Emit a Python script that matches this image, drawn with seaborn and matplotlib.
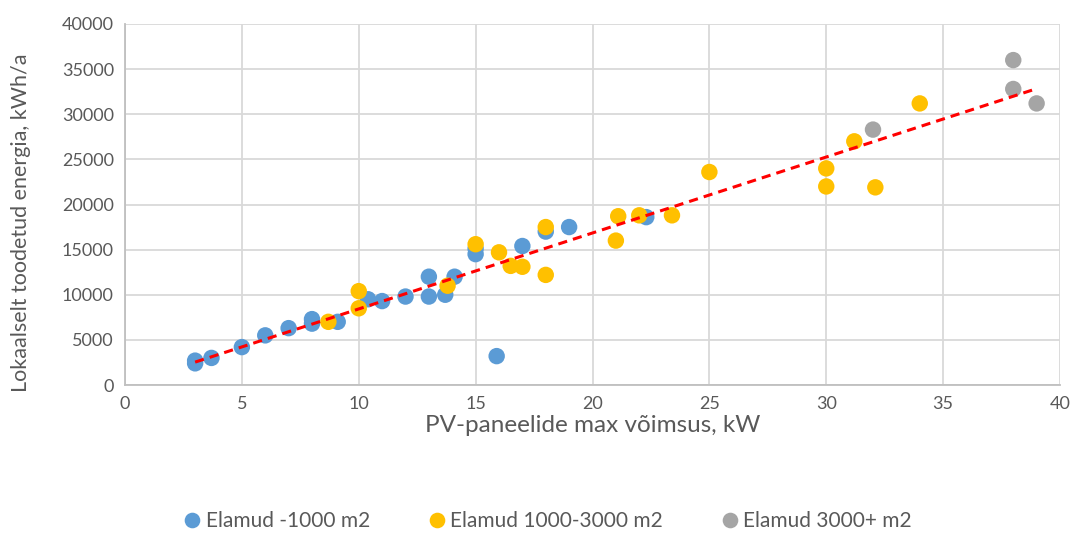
import numpy as np
import pandas as pd
import matplotlib
matplotlib.use("Agg")
import matplotlib.pyplot as plt
import seaborn as sns

# Data
small_x = [3, 3, 3.7, 5, 6, 7, 8, 8, 9.1, 10.4, 11, 12, 13, 13, 13.7, 14.1, 15, 15, 15.9, 17, 18, 19, 22.3]
small_y = [2700, 2400, 3000, 4200, 5500, 6300, 7300, 6800, 7000, 9500, 9300, 9800, 12000, 9800, 10000, 12000, 14500, 15100, 3200, 15400, 17000, 17500, 18600]
mid_x = [8.7, 10, 10, 13.8, 15, 16, 16.5, 17, 18, 18, 21, 21.1, 22, 23.4, 25, 30, 30, 31.2, 32.1, 34]
mid_y = [7000, 10400, 8500, 11000, 15600, 14700, 13200, 13100, 12200, 17500, 16000, 18700, 18800, 18800, 23600, 24000, 22000, 27000, 21900, 31200]
large_x = [32, 38, 38, 39]
large_y = [28300, 36000, 32800, 31200]
series_names = ["Elamud -1000 m2", "Elamud 1000-3000 m2", "Elamud 3000+ m2"]
colors = ["#5B9BD5", "#FFC000", "#A5A5A5"]

df = pd.concat([
    pd.DataFrame({"x": small_x, "y": small_y, "grp": series_names[0]}),
    pd.DataFrame({"x": mid_x, "y": mid_y, "grp": series_names[1]}),
    pd.DataFrame({"x": large_x, "y": large_y, "grp": series_names[2]}),
], ignore_index=True)

sns.set_theme(style="white")
plt.rcParams["font.family"] = ["Lato", "DejaVu Sans"]

fig = plt.figure(figsize=(10.76, 5.37), dpi=100)
ax = fig.add_axes([125/1076, 1-385/537, (1060-125)/1076, (385-24)/537])

sns.scatterplot(data=df, x="x", y="y", hue="grp", palette=colors, hue_order=series_names,
                s=140, edgecolor="none", linewidth=0, ax=ax, zorder=3)
sns.regplot(data=df, x="x", y="y", scatter=False, ci=None, truncate=True, ax=ax,
            line_kws=dict(color="#FF0000", linestyle=(0, (3, 2)), linewidth=2.2, zorder=4))

ax.set_xlim(0, 40)
ax.set_ylim(0, 40000)
ax.set_xticks(range(0, 41, 5))
ax.set_yticks(range(0, 40001, 5000))
ax.tick_params(axis="both", labelsize=13, colors="#595959", length=0, pad=8)
ax.grid(True, color="#D9D9D9", linewidth=1.3)
ax.set_axisbelow(True)
for s in ["top", "right"]:
    ax.spines[s].set_visible(False)
for s in ["left", "bottom"]:
    ax.spines[s].set_color("#BFBFBF")
    ax.spines[s].set_linewidth(1.3)
ax.set_xlabel("PV-paneelide max võimsus, kW", fontsize=17.5, color="#595959")
ax.set_ylabel("Lokaalselt toodetud energia, kWh/a", fontsize=15.5, color="#595959")
ax.xaxis.set_label_coords(0.5, (385-415)/361)
ax.yaxis.set_label_coords((31-125)/935, 0.45)

h, l = ax.get_legend_handles_labels()
ax.legend(h[:3], l[:3], loc="center", bbox_to_anchor=((546-125)/935, 1-(521-24)/(385-24)), ncol=3,
          frameon=False, fontsize=15, labelcolor="#595959", handletextpad=0.05,
          handlelength=1.2, columnspacing=2.6, markerscale=0.95)

fig.savefig("out.png", dpi=100)
